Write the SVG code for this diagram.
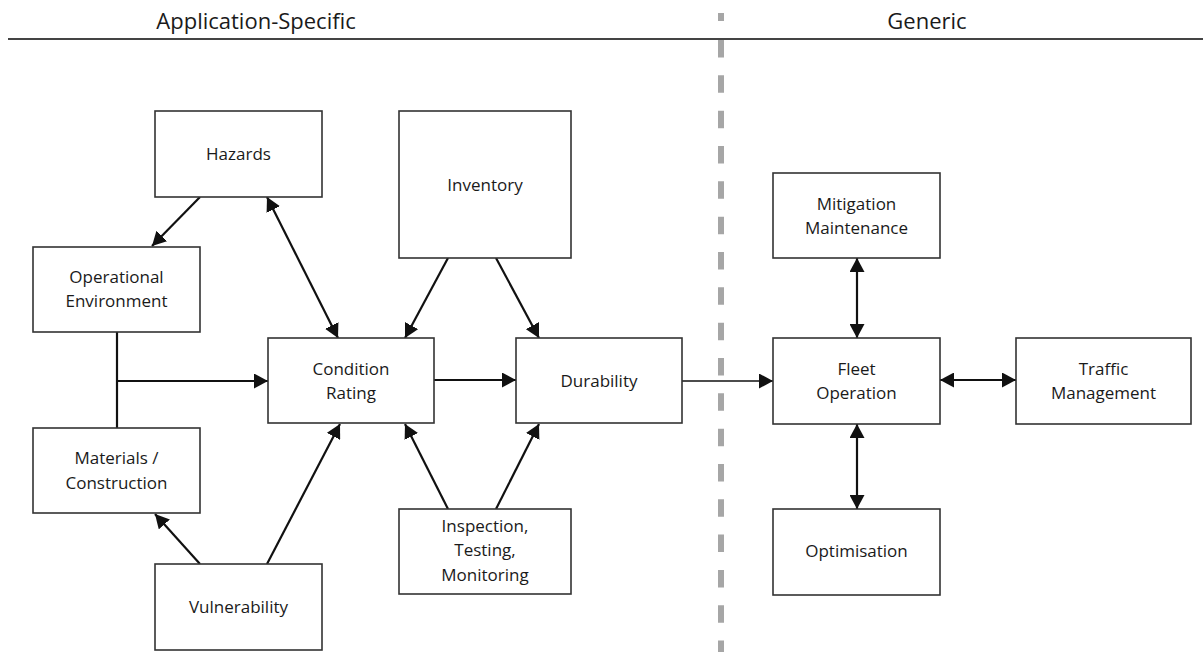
<svg xmlns="http://www.w3.org/2000/svg" width="1203" height="652" viewBox="0 0 1203 652">
  <defs>
    <style>
      .box { fill: #ffffff; stroke: #333333; stroke-width: 1.6; }
      .lbl { font-family: "Open Sans", "Liberation Sans", sans-serif; font-size: 17px; fill: #1a1a1a; text-anchor: middle; }
      .hdr { font-family: "Open Sans", "Liberation Sans", sans-serif; font-size: 22px; fill: #1a1a1a; text-anchor: middle; }
      .conn { fill: none; stroke: #111111; stroke-width: 2.2; }
      .thin { stroke-width: 1.6; }
      .one { marker-end: url(#ah); }
      .two { marker-start: url(#ah); marker-end: url(#ah); }
    </style>
    <marker id="ah" markerUnits="userSpaceOnUse" markerWidth="15" markerHeight="15" refX="14" refY="7.5" orient="auto-start-reverse" viewBox="0 0 15 15">
      <path d="M0,0 L14,7.5 L0,15 z" fill="#111111"/>
    </marker>
  </defs>
  <rect width="1203" height="652" fill="#ffffff"/>

  <g id="header">
    <line x1="8" y1="39" x2="1203" y2="39" stroke="#444444" stroke-width="2"/>
    <text class="hdr" x="256" y="29">Application-Specific</text>
    <text class="hdr" x="927" y="29">Generic</text>
    <line x1="721" y1="13" x2="721" y2="21" stroke="#a6a6a6" stroke-width="6"/>
    <line x1="721" y1="40" x2="721" y2="652" stroke="#a6a6a6" stroke-width="6" stroke-dasharray="17.5 17.83"/>
  </g>

  <g id="connectors">
    <line class="conn one" x1="200" y1="197" x2="152" y2="246"/>
    <line class="conn two" x1="267" y1="197" x2="338" y2="338"/>
    <line class="conn one" x1="448" y1="258" x2="405" y2="338"/>
    <line class="conn one" x1="496" y1="258" x2="539" y2="338"/>
    <line class="conn" x1="117" y1="332" x2="117" y2="428"/>
    <line class="conn one" x1="117" y1="381" x2="268" y2="381"/>
    <line class="conn one" x1="434" y1="380" x2="516" y2="380"/>
    <line class="conn thin one" x1="682" y1="381" x2="773" y2="381"/>
    <line class="conn two" x1="857" y1="258" x2="857" y2="338"/>
    <line class="conn two" x1="940" y1="380" x2="1016" y2="380"/>
    <line class="conn two" x1="857" y1="424" x2="857" y2="509"/>
    <line class="conn one" x1="200" y1="564" x2="155" y2="514"/>
    <line class="conn one" x1="267" y1="564" x2="340" y2="424"/>
    <line class="conn one" x1="448" y1="509" x2="405" y2="424"/>
    <line class="conn one" x1="496" y1="509" x2="539" y2="424"/>
  </g>

  <g id="hazards">
    <rect class="box" x="155" y="111" width="167" height="86"/>
    <text class="lbl" x="238.5" y="160">Hazards</text>
  </g>
  <g id="inventory">
    <rect class="box" x="399" y="111" width="172" height="147"/>
    <text class="lbl" x="485" y="190.5">Inventory</text>
  </g>
  <g id="operational-environment">
    <rect class="box" x="33" y="247" width="167" height="85"/>
    <text class="lbl" x="116.5" y="283">Operational</text>
    <text class="lbl" x="116.5" y="306.5">Environment</text>
  </g>
  <g id="condition-rating">
    <rect class="box" x="268" y="338" width="166" height="85"/>
    <text class="lbl" x="351" y="375">Condition</text>
    <text class="lbl" x="351" y="399">Rating</text>
  </g>
  <g id="durability">
    <rect class="box" x="516" y="338" width="166" height="85"/>
    <text class="lbl" x="599" y="386.5">Durability</text>
  </g>
  <g id="materials-construction">
    <rect class="box" x="33" y="428" width="167" height="85"/>
    <text class="lbl" x="116.5" y="464">Materials /</text>
    <text class="lbl" x="116.5" y="489">Construction</text>
  </g>
  <g id="vulnerability">
    <rect class="box" x="155" y="564" width="167" height="86"/>
    <text class="lbl" x="238.5" y="613">Vulnerability</text>
  </g>
  <g id="inspection">
    <rect class="box" x="399" y="509" width="172" height="85"/>
    <text class="lbl" x="485" y="531.5">Inspection,</text>
    <text class="lbl" x="485" y="556">Testing,</text>
    <text class="lbl" x="485" y="580.5">Monitoring</text>
  </g>
  <g id="mitigation-maintenance">
    <rect class="box" x="773" y="173" width="167" height="85"/>
    <text class="lbl" x="856.5" y="210">Mitigation</text>
    <text class="lbl" x="856.5" y="233.5">Maintenance</text>
  </g>
  <g id="fleet-operation">
    <rect class="box" x="773" y="338" width="167" height="86"/>
    <text class="lbl" x="856.5" y="375">Fleet</text>
    <text class="lbl" x="856.5" y="398.5">Operation</text>
  </g>
  <g id="traffic-management">
    <rect class="box" x="1016" y="338" width="175" height="86"/>
    <text class="lbl" x="1103.5" y="375">Traffic</text>
    <text class="lbl" x="1103.5" y="398.5">Management</text>
  </g>
  <g id="optimisation">
    <rect class="box" x="773" y="509" width="167" height="86"/>
    <text class="lbl" x="856.5" y="557">Optimisation</text>
  </g>
</svg>
